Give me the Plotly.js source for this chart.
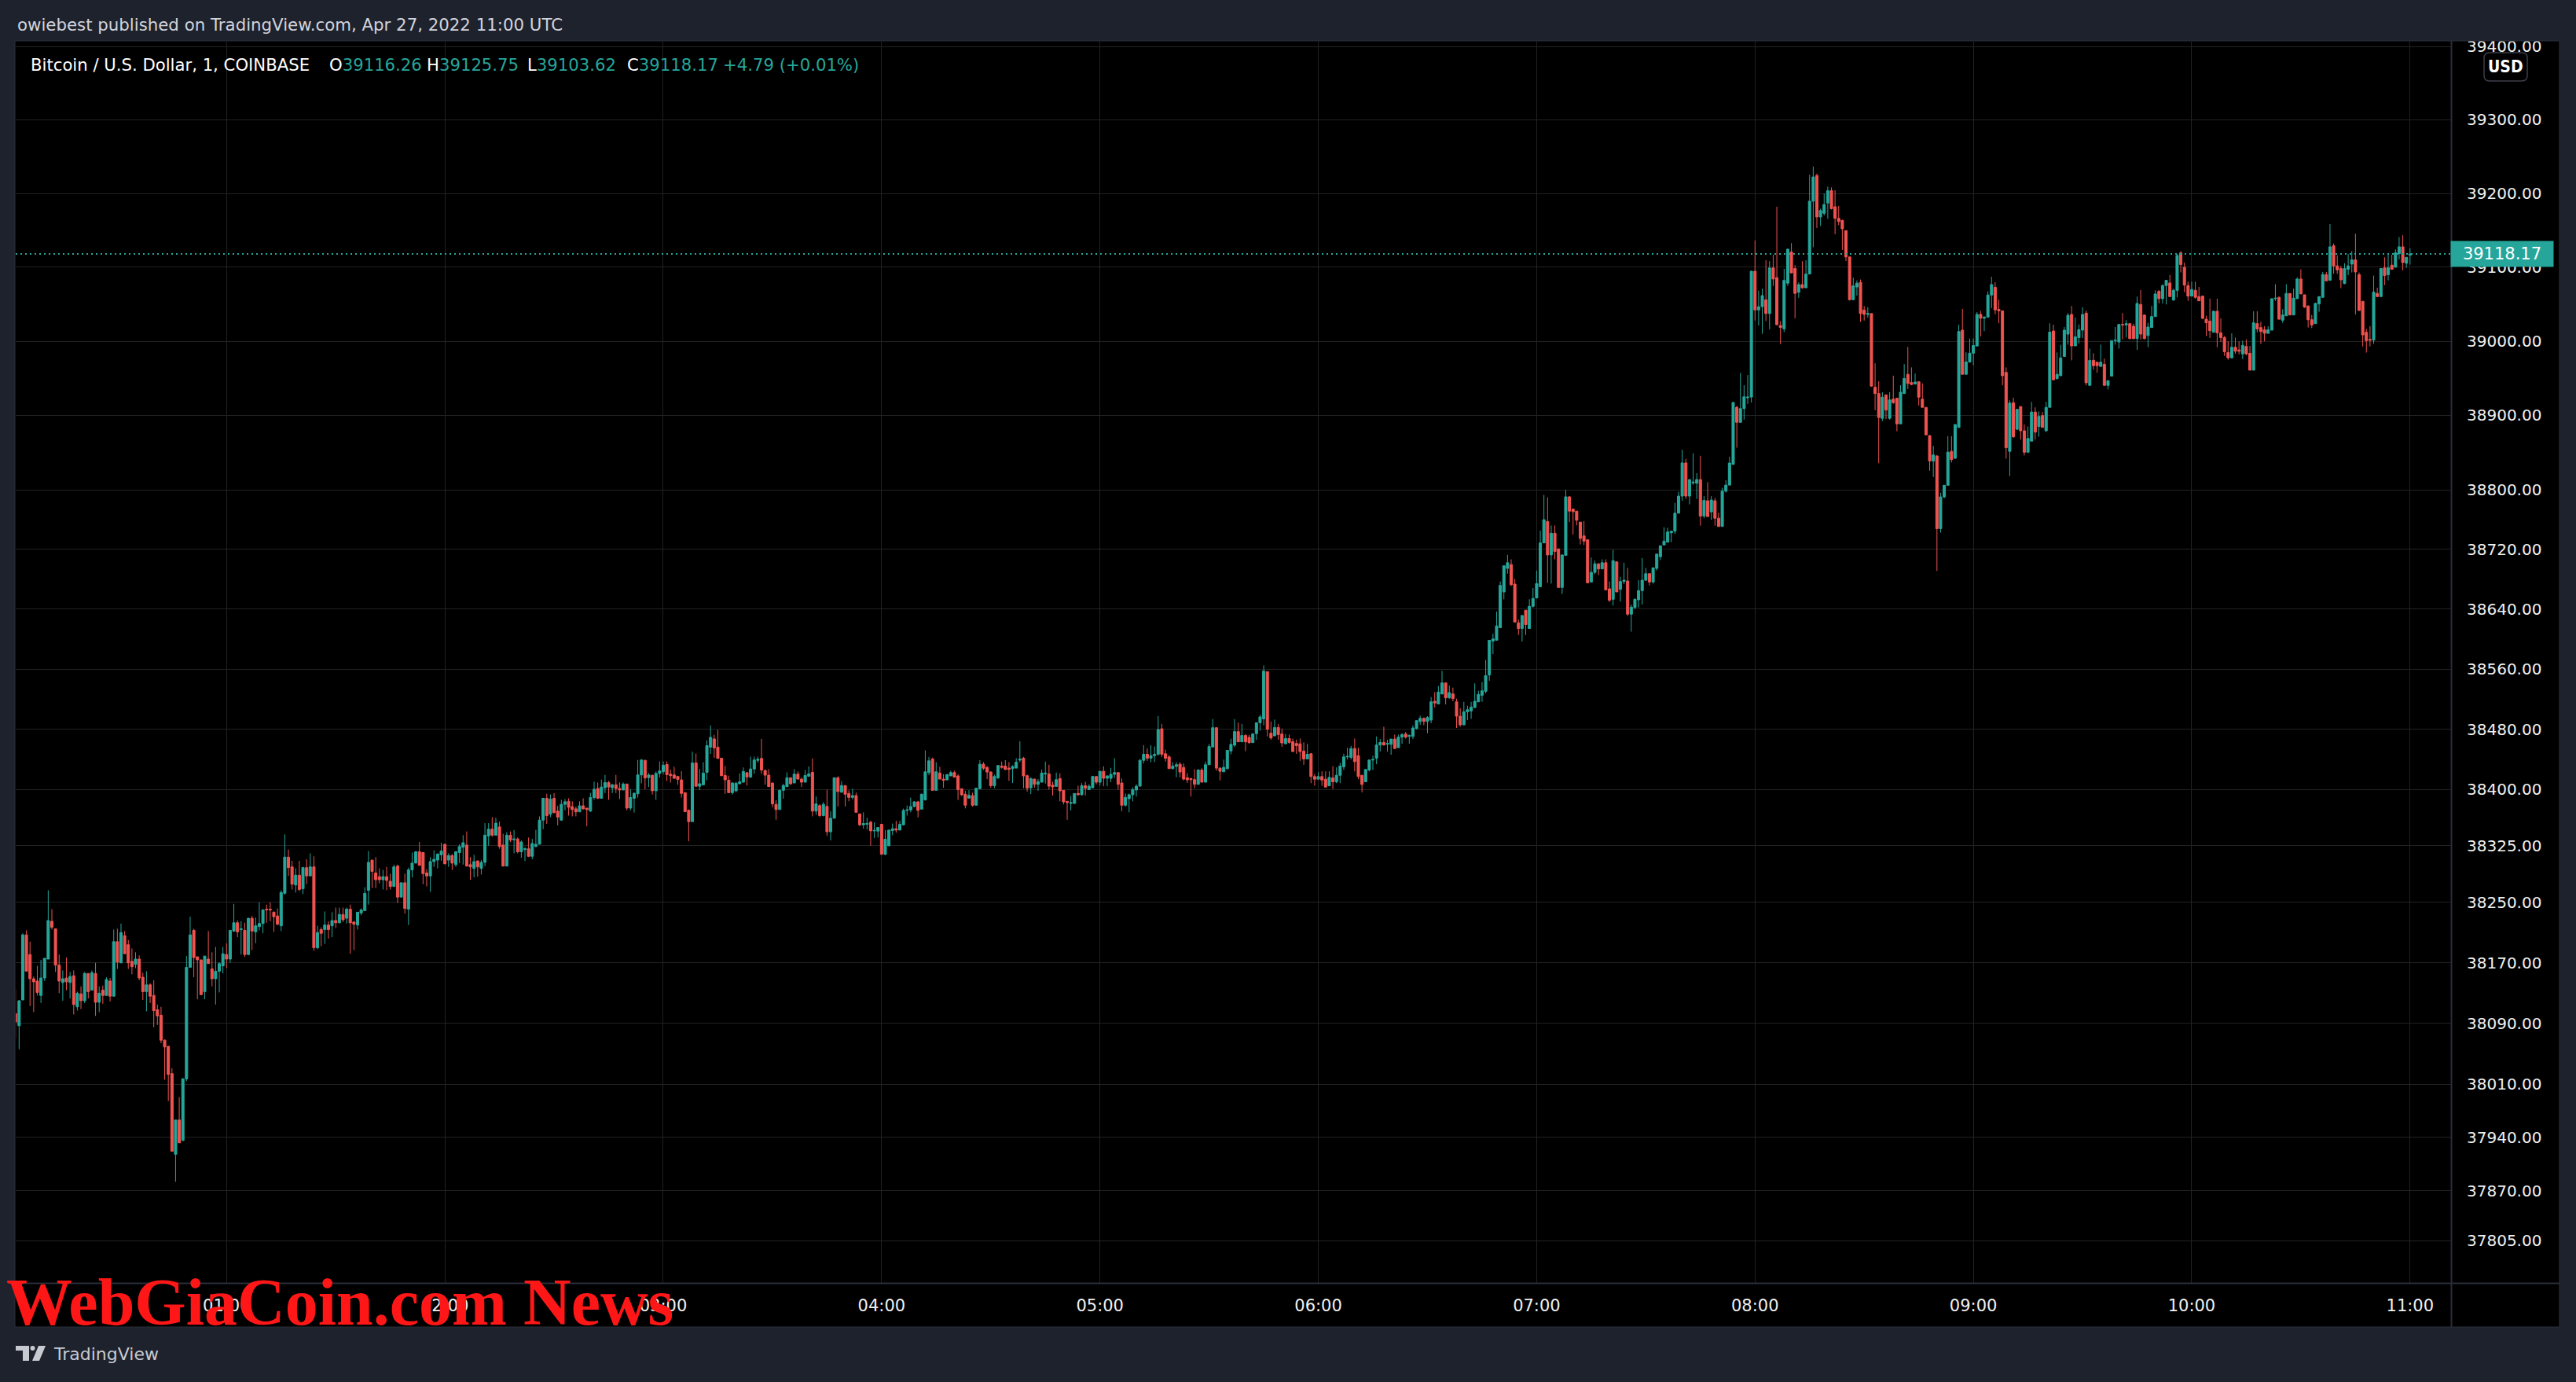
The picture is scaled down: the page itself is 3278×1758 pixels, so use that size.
<!DOCTYPE html>
<html>
<head>
<meta charset="utf-8">
<script src="https://cdn.plot.ly/plotly-3.0.1.min.js"></script>
<style>
html,body{margin:0;padding:0;background:#1e222d;overflow:hidden;}
#chart{width:3278px;height:1758px;}
</style>
</head>
<body>
<div id="chart"></div>
<script>
// ---------------- DATA (1-minute candles, Apr 27 2022, 00:02 → 11:00 UTC) ----------------
const firstCandle = [2022, 3, 27, 0, 2]; // year, month(0-based), day, hour, minute (UTC)

const opens = [
38103,38087,38121,38207,38181,38149,38146,38127,38150,38175,
38225,38215,38167,38144,38150,38144,38153,38112,38129,38120,
38156,38134,38156,38118,38134,38127,38146,38126,38198,38170,
38206,38194,38172,38168,38175,38151,38132,38141,38127,38108,
38101,38068,38060,38024,37918,37963,37936,38017,38164,38213,
38178,38174,38132,38175,38162,38149,38159,38166,38181,38175,
38212,38223,38214,38213,38181,38229,38211,38218,38222,38241,
38241,38237,38232,38219,38262,38310,38297,38273,38286,38268,
38296,38285,38297,38190,38214,38214,38220,38219,38226,38223,
38234,38229,38241,38224,38220,38236,38239,38266,38306,38289,
38284,38280,38284,38278,38271,38298,38257,38276,38241,38293,
38302,38317,38316,38289,38285,38304,38306,
38313,38327,38306,38312,38300,38316,38323,38326,38300,38295,
38305,38295,38303,38338,38347,38339,38350,38326,38298,38339,
38333,38334,38317,38320,38321,38311,38324,38327,38359,38388,
38367,38388,38371,38359,38380,38384,38377,38374,38370,38378,
38375,38371,38389,38401,38388,38402,38409,38402,38406,38401,
38399,38407,38375,38388,38394,38419,38438.5,38415.5,38418.5,38398,
38421,38423.5,38433,38420,38419,38417,38412.5,38395.5,38372,38357,
38435,38404,38406,38422.5,38456,38467,38456,38441.3,38418.4,38412,
38395.5,38398,38407.3,38409.4,38422,38416.3,38427,38438.5,38441,38425,
38418.7,38408.4,38380,38373,38398.6,38403.5,38415.3,38408.4,38420.1,38413.5,
38409.4,38417.3,38422.5,38371,38378.2,38365,38377.2,38343.5,38361.5,38415.3,
38396,38405,
38394.4,38389.2,38391.6,38367.3,38352.8,38353.5,38356.3,38344.8,38344.5,38353.5,
38313.6,38325,38345.2,38347.6,38345.8,38352.8,38371.9,38372.6,38377,38383.3,
38373.6,38385.8,38422.2,38440.2,38398.6,38421.5,38413.5,38412.5,38417.7,38422.2,
38417.7,38400.7,38393.4,38388.2,38391.6,38378.8,38400.7,38433.3,38429,38422.9,
38404.8,38415.3,38430.9,38430.9,38428.1,38427.4,38428.1,38438.8,38441.3,38418,
38402,38413.5,38406.6,38409.4,38420.4,38420.4,38405.5,38403.8,38414.2,38398.6,
38384,38381.2,38381.2,38394.4,38392.7,38404.8,38399.6,38402,38417,38409.4,
38423.9,38414.6,38414.6,38419.8,38422.2,38408.3,38378.8,38387.5,38392.7,38399,
38404.1,38438.5,38446.5,38441.3,38444.7,38446.5,38480.5,38447.2,38443,38427.4,
38430.4,38433.3,38429,38415.3,38414.2,38412.8,38406.6,38425.6,38409.4,38432.6,
38456.2,38481.9,38428.1,38423.2,38427.4,38451,38458.6,38476.7,38463.1,38471.5,
38469,38462,
38474,38488.5,38493.7,38556.6,38474.5,38471,38482.2,38473.5,38460.5,38467.5,
38463.3,38461,38460.5,38450.8,38440.3,38447.2,38416.9,38413.4,38416.9,38413.4,
38404.6,38415.1,38409.9,38418.6,38429.8,38443.1,38442.4,38454.2,38444.8,38418.6,
38409.9,38425.6,38438.9,38441.3,38458.8,38462.3,38459.8,38459.8,38466.8,38455.3,
38469.3,38473.5,38470.3,38470.3,38480.8,38490.2,38494.4,38490.2,38492,38517.1,
38513.6,38526.9,38541.6,38521.7,38526.9,38516.4,38497.2,38485.7,38503.1,38504.2,
38508.7,38516.4,38525.1,38530.4,38552.1,38597.4,38598.5,38615.3,38663.1,38694.6,
38699.8,38673.6,38621.9,38614.2,38638.7,38614.2,38643.9,38655,38670.1,38728.8,
38757.4,38712.7,38741.7,38720.8,38669.1,38712,38790.6,38774.2,38771.4,38756.7,
38738.2,38733,38676.4,38689.3,38700.8,38693.9,38702.2,38667.3,38653.3,38703.3,
38666.6,38677.1,38677.8,38633.4,38642.2,38652.6,38664.9,38678.8,38687.6,38676.4,
38694.6,38710.3,38726,
38729.7,38742.3,38744.5,38768.6,38791.6,38836.1,38791.6,38809.3,38808.9,38813.8,
38764.8,38785.3,38770.4,38785.3,38761.9,38750.8,38798.2,38806.3,38834.2,38911,
38890.7,38909.2,38923.8,38924.8,39094.6,39042.3,39046.7,39056.1,39037.4,39099.1,
39086,39021.3,39016.8,39078.5,39120.7,39098.3,39066.2,39076.6,39072.2,39090.8,
39189.5,39224.3,39168.2,39173.1,39187,39203.7,39182,39166.3,39163.4,39149.5,
39114,39056.1,39073.3,39079.6,39042.2,39036.3,39037.4,38938,38929.5,38896.1,
38927.6,38896.1,38922,38923.2,38888.7,38929.5,38955.4,38944.3,38942.4,38945.4,
38922,38910.9,38872.8,38838.7,38845.4,38747.9,38790.5,38806.1,38851.7,38842.4,
38883.9,39015,38955.4,38972.1,38983.9,38993.6,39036.3,39031.1,39032.6,39062.4,
39072.9,39043,39041.1,38958,38851.7,38917.2,38881.3,38912,38879.4,38850.5,
38865.4,38904.6,38885,38899.8,38879.4,38910.9,39013.8,38949.8,38953.5,
38979.5,39009.6,39036.2,38993.7,39005,39015,39038,38940.5,38974.2,38971.7,
38966,38968.9,38940.5,38953,39000.8,38999,39022.7,39022,39023.8,39020.3,
39003.6,39049.7,39035.5,39007.8,39018.5,39033.4,39067.4,39057.5,39075.2,39078.8,
39055.7,39068.8,39119.5,39100,39075.2,39061,39068.8,39060.3,39061,39029.8,
39027.3,39012.1,39040.5,39011.4,39005,38984.8,38977.7,38991.9,38988.3,38983,
38993,38983.7,38961,39023.8,39018.5,39015.6,39010.7,39015,39057.5,39059.3,
39028.4,39034.4,39064.6,39035.5,39057.5,39084.1,39062.8,39047.6,39029.1,39023.8,
39050.4,39059.3,39090.1,39082.3,39129.1,39101.8,39098.3,39078,39097.2,39104.3,
39110,39090.1,39054,39012.1,39002.5,39001.5,39064.6,39060.3,39099.3,39090,
39102.9,39100,39118.5,39127.7,39105.4,39116.26
];

const highs = [
38135,38121,38209,38213,38198,38152,38166,38174,38176,38266,
38241,38215,38181,38160,38177,38158,38160,38132,38139,38158,
38156,38160,38170,38139,38140,38151,38150,38214,38215,38222,
38212,38200,38189,38184,38180,38157,38159,38143,38147,38115,
38112,38069,38060,38031,37963,37993,38018,38179,38231,38215,
38178,38174,38179,38212,38184,38191,38171,38191,38196,38213,
38248,38226,38225,38223,38229,38232,38230,38250,38241,38247,
38250,38238,38242,38266,38340,38320,38305,38295,38305,38297,
38307,38315,38311,38219,38217,38238,38225,38237,38243,38243,
38243,38243,38247,38225,38237,38242,38270,38318,38306,38310,
38295,38293,38297,38288,38300,38300,38276,38288,38296,38316,
38318,38330,38316,38294,38310,38319,38315,
38329,38327,38315,38314,38318,38327,38339,38344,38310,38313,
38305,38306,38355,38355,38363,38362,38357,38341,38343,38344,
38346,38336,38332,38323,38336,38334,38346,38364,38388,38394,
38393,38395,38378,38386,38387,38388,38384,38377,38384,38388,
38375,38395,38410,38409,38413,38419,38411,38407,38419,38409,
38409,38407,38400,38396,38439,38440,38439,38421.5,38419.5,38423.5,
38437,38437,38437,38426,38430,38418,38424,38395.5,38373.3,38450,
38447.5,38427,38436,38465,38485,38472.5,38479,38442,38431,38418,
38409,38410,38421,38429,38423,38443.4,38443.4,38443.4,38467,38426.3,
38426.7,38408.4,38385.5,38399.6,38407.3,38422.5,38415.3,38426.7,38423.6,38415.6,
38425.6,38430.5,38441,38390.3,38380.2,38383,38399.6,38370.6,38415.3,38417.3,
38411,38405,
38398.6,38400.7,38395.5,38367.3,38369.4,38362,38358,38356,38349.3,38353.5,
38345.8,38346,38354.5,38358,38358,38374.3,38378.5,38388.9,38384,38384.7,
38394.4,38451.7,38443,38442,38436,38429.8,38420,38420.4,38424.6,38424.6,
38420,38400.7,38397.9,38398.6,38395.5,38401.4,38438.8,38436,38430.9,38423.9,
38419.4,38431.6,38436.8,38438.8,38436,38432,38441.3,38463.8,38443,38419.4,
38416,38414.2,38413.5,38426.3,38436.8,38432.6,38410,38422.2,38421.2,38398.6,
38384,38391,38394.4,38404.8,38408.3,38410,38406.6,38418,38417,38423.9,
38430.5,38418.7,38428.4,38441.3,38422.2,38414.2,38394.4,38394.4,38402.4,38406.6,
38440.2,38458.6,38454.5,38458.6,38456.9,38497.5,38487.1,38452.7,38445.4,38436,
38436,38436,38434.3,38421.5,38415.3,38426.7,38426.7,38428.1,38436.8,38460.3,
38493.3,38481.9,38429.1,38439.5,38451.7,38467.3,38493.3,38488.8,38487.1,38473.5,
38472.5,38474.9,
38489,38499,38565,38556.6,38490.2,38492.7,38486.7,38480.8,38473.5,38472.8,
38467.5,38466,38467.5,38462.3,38460.5,38448.3,38420.4,38422.8,38423.8,38423.8,
38423.8,38430.8,38429.1,38435.4,38447.3,38455.3,38457.7,38467.5,38455.3,38418.6,
38426.3,38438.9,38444.8,38470.3,38466.8,38483.2,38465.8,38466.8,38472.8,38472.8,
38474.5,38476.3,38472.8,38485,38492,38497.9,38495.5,38497.2,38522.7,38529.3,
38537.4,38557.6,38541.6,38538.1,38535.3,38520.6,38507.7,38516.4,38511.2,38516.4,
38540.9,38531.1,38542.6,38572.3,38598.5,38607.2,38636.9,38677.1,38698.8,38712.7,
38706.8,38680.6,38626.4,38631.7,38638.7,38653.3,38668.4,38691.8,38745.2,38793.1,
38789.9,38752.2,38752.2,38720.8,38712.7,38800,38791.7,38774.2,38771.4,38756.7,
38758.1,38733,38709.2,38705,38701.5,38706.8,38706.8,38677.1,38719.7,38704.3,
38683.4,38702.2,38695.3,38646.3,38654.4,38678.8,38708.5,38695.3,38687.6,38696.3,
38713.8,38725,38749.8,
38749,38744.5,38782.4,38797.2,38853.9,38841.6,38813.8,38849.2,38822.3,38845.7,
38791.6,38810.4,38791.6,38789,38769.3,38802.6,38813,38844.5,38917.5,38913,
38957.3,38940.7,38954.4,39095.3,39136.4,39068.4,39071,39109.5,39108.4,39117,
39182,39027.3,39097.9,39125.2,39132.7,39102.8,39079.6,39108.4,39109.5,39225.4,
39236.6,39226.9,39179.4,39200,39209.3,39208.2,39204.5,39183.2,39164.5,39149.5,
39114,39086,39082.2,39083.4,39047.5,39046,39037.4,38970.2,38946.1,38931.3,
38928.3,38931.3,38953.5,38923.9,38940.6,38969.1,38992.4,38964.7,38956.5,38946.1,
38943.2,38910.9,38873.9,38859,38846.8,38796.1,38806.1,38872.1,38872.1,38888.8,
39022.4,39043.7,38985,39003.7,39003.7,39039.3,39041.1,39033.6,39067.3,39087.1,
39079.6,39056.1,39041.1,38964.7,38920.3,38924,38908.3,38912,38888,38885,
38918.3,38910.9,38905.4,38904.6,38918.3,39024.3,39022.4,38985,38995,
39019.2,39038,39047.6,39032,39022.7,39045.8,39041.5,38990.1,38983.7,38971.7,
38995.4,38976.6,38946.9,39000.8,39019.2,39022.7,39038,39028.4,39023.8,39023.8,
39060.3,39069.2,39035.5,39024.9,39047.6,39068.8,39069.2,39077,39082.3,39089.4,
39071,39117.8,39122,39106.4,39080.5,39080.5,39080.5,39073.4,39061.7,39034.4,
39057.5,39041.5,39057.5,39031,39007.1,38999.9,39010.7,39005,38999.9,39000.8,
39002.5,38993.7,39040.5,39040.5,39026.3,39020.3,39020.3,39057.5,39077,39060.3,
39043.3,39077,39064.6,39071,39086.6,39097.2,39062.8,39048.6,39035.5,39052.2,
39060.3,39093.7,39093.7,39158.5,39132,39116,39101.8,39105.4,39117.8,39122,
39145.4,39093,39054,39016.7,39020.3,39088.7,39072.4,39098.3,39113.5,39118.5,
39117,39124.2,39140.8,39143.3,39113.5,39125.75
];

const lows = [
38071,38056,38121,38159,38113,38105,38127,38117,38146,38175,
38214,38158,38130,38120,38134,38123,38102,38107,38109,38117,
38123,38134,38100,38105,38116,38127,38119,38126,38162,38170,
38182,38162,38155,38163,38147,38121,38106,38117,38085,38088,
38064,38016,37988,37922,37882,37933,37936,38014,38164,38151,
38122,38128,38122,38169,38139,38115,38131,38156,38163,38170,
38211,38204,38181,38178,38180,38187,38196,38213,38209,38223,
38225,38211,38220,38212,38260,38285,38267,38263,38265,38261,
38274,38285,38186,38188,38192,38195,38202,38204,38216,38222,
38224,38222,38182,38187,38214,38233,38239,38247,38269,38269,
38275,38267,38266,38267,38271,38249,38257,38235,38220,38283,
38302,38299,38274,38271,38264,38297,38295,
38305,38301,38297,38293,38297,38302,38300,38298,38280,38283,
38284,38287,38298,38325,38337,38339,38321,38298,38298,38330,
38315,38315,38309,38305,38310,38307,38323,38327,38347,38354,
38363,38368,38352,38358,38372,38365,38364,38364,38370,38373,
38351,38370,38386,38387,38388,38395,38386,38395,38395,38387,
38399,38372,38372,38369,38389,38408,38400,38403,38393,38386,
38415.5,38420,38411,38409,38414,38406,38389,38369.6,38331,38357,
38404,38399,38405,38412,38447,38441.6,38441,38418,38394,38395,
38393,38396,38407,38409,38405,38415,38420.5,38435.4,38420.5,38406.3,
38403.5,38376,38359.5,38373,38387.5,38403,38405.6,38408.4,38413.5,38403,
38409.4,38416.6,38364,38366,38363,38364,38338,38332,38361.5,38377.2,
38396,38377,
38384,38386.5,38369.4,38351,38347.6,38346.5,38325,38335.4,38336,38313.6,
38312.5,38324.3,38338.9,38342.4,38345.8,38352,38365,38369.4,38376,38362.5,
38373.6,38385,38418.7,38397.9,38397.9,38413.5,38402,38411.8,38417.7,38416,
38385.8,38391,38374.6,38387.5,38377,38378.8,38400.7,38425.6,38413.5,38402,
38401.4,38413.5,38427.4,38425.6,38411.1,38408.3,38428.1,38436,38401.4,38396.9,
38393.7,38402,38397.9,38409.4,38407.6,38399.6,38391.6,38403.8,38384,38379.8,
38359.4,38372,38380.6,38391.6,38391.6,38391.6,38398.9,38401.4,38406.6,38404.8,
38404,38404,38409.4,38415.3,38399.6,38370.8,38377,38369.4,38384,38390.3,
38404.1,38434.3,38437.8,38436,38436,38444.7,38443,38436.8,38427.4,38426.3,
38416,38416,38411.8,38408.3,38390.3,38401.4,38405.9,38409.4,38409.4,38432.6,
38456.2,38424.6,38411.8,38423.2,38426.3,38446.5,38456.2,38463.1,38463.1,38450.6,
38460.3,38462,
38465.8,38478,38485,38470.3,38465.8,38471,38465.8,38456.3,38460.5,38460.5,
38450.1,38447,38437.8,38432.6,38440.3,38408.1,38404.6,38413.4,38404.6,38402.9,
38404.6,38400.4,38408.1,38408.1,38425.6,38439.6,38439.6,38423.8,38413.4,38395.9,
38409.9,38423.8,38425.6,38433.3,38450.1,38458.8,38450.1,38445.9,38453.5,38455.3,
38460.5,38467.5,38460.5,38466.8,38479.7,38485.7,38485,38474.5,38487.8,38508.7,
38512.9,38526.2,38512.9,38520.6,38517.1,38481.5,38483.2,38485,38492,38493.7,
38508.7,38516.4,38516.4,38527.6,38544.4,38580,38598.5,38615.3,38653.3,38687.6,
38670.8,38622.9,38605.5,38596.8,38605.5,38614.2,38642.2,38655,38670.1,38728.8,
38675.3,38674.3,38706.8,38669.1,38660.3,38712,38756.7,38740,38752.2,38726.7,
38726,38675.3,38676.4,38686.9,38685.8,38693.9,38665.9,38649.8,38645,38663.1,
38650.2,38673.6,38631,38610,38640.5,38642.2,38646.3,38677.8,38671.9,38674.3,
38691.8,38705.7,38726,
38729.7,38729.7,38740.6,38768.6,38785.3,38787.9,38780.5,38806.7,38787.9,38751.9,
38762,38764.1,38759.7,38751.9,38750.8,38750.8,38796.3,38806.3,38833.5,38856.6,
38890.7,38894.4,38915.5,38917.5,39028,39021.3,39010,39027.3,39016,39074.8,
39021.3,38996,39012.3,39074.8,39092.3,39031,39058.7,39071,39072.2,39090.8,
39127.1,39153.3,39155.9,39170.1,39165.6,39178.3,39144.7,39157,39123.4,39108.4,
39055,39056.1,39061.7,39026.2,39028,39031.8,38938.7,38907.2,38835.7,38892.4,
38895,38894.3,38915.7,38878.7,38888.7,38929.5,38935.8,38940.6,38941.7,38913.5,
38910.9,38873.9,38825.7,38817.2,38691.2,38742.6,38788.7,38806.1,38836.8,38841.8,
38883.9,38955.4,38955.4,38971,38967.6,38993.6,39006.4,39013.8,39032.6,39044.9,
39036.3,39024.3,38940.6,38841.8,38818.5,38869.8,38881.3,38867.6,38846.1,38850.5,
38865.4,38867.6,38871.3,38883.9,38877.6,38910.9,38948,38948,38953.5,
38979.5,38995.4,38974.2,38993.7,38996.8,39004.3,38940.5,38940.5,38961.7,38957.5,
38966,38940.5,38935,38953,38995.4,38990.1,39002.5,39005,39002.5,39002.5,
38988.3,39002.5,39002.5,38991.9,39018.5,39032.7,39051.1,39051.1,39049.7,39060.3,
39054.6,39059.3,39093,39066.4,39054.6,39061,39057.5,39054.6,39029.8,39007.1,
39004.3,39012.1,38991.9,38999,38980.2,38975.2,38976.6,38983.1,38982.3,38975.9,
38981.2,38961,38961,39012.1,38996.5,38999.9,39010.7,39015,39054.6,39029.1,
39024.9,39034.4,39035.5,39035.5,39057.5,39063.9,39045.1,39018.5,39017.8,39023.8,
39039.8,39059.3,39081.6,39082.3,39091.2,39091.2,39071.7,39077,39089.4,39093,
39036.2,39041.5,38993,38984.8,38993,38996.5,39060.3,39060.3,39075.9,39082.3,
39097.2,39100,39110.7,39095.8,39099.3,39103.62
];

const closes = [
38092,38120,38207,38159,38149,38145,38131,38150,38176,38226,
38217,38167,38146,38149,38145,38152,38115,38130,38120,38156,
38132,38157,38118,38130,38127,38148,38126,38198,38171,38210,
38182,38170,38165,38175,38150,38132,38141,38126,38107,38100,
38068,38059,38023,37922,37963,37933,38017,38164,38207,38177,
38174,38128,38179,38169,38149,38159,38169,38182,38175,38213,
38223,38211,38215,38181,38229,38212,38219,38222,38240,38240,
38240,38231,38221,38263,38310,38296,38274,38286,38267,38296,
38285,38297,38190,38210,38209,38220,38214,38226,38223,38234,
38227,38241,38223,38221,38237,38240,38262,38303,38291,38280,
38280,38284,38279,38271,38297,38257,38276,38242,38293,38302,
38317,38299,38288,38285,38304,38307,38314,
38318,38301,38312,38302,38317,38324,38329,38298,38297,38304,
38297,38303,38339,38347,38339,38355,38324,38298,38339,38332.5,
38334,38317,38330,38321,38311,38328,38327,38359,38388,38365,
38387,38369,38363,38380,38383.4,38376,38373,38370,38378,38374,
38373,38389,38400,38388,38403,38409,38403,38406,38401,38399,
38407,38375,38389,38394.5,38419,38439,38415,38419,38398,38421,
38424.3,38432,38419.4,38418,38414.6,38413,38394.5,38370.3,38357,38435,
38404,38407.3,38421.5,38458,38469,38455,38441,38418,38412.5,38395.5,
38408.4,38408,38410,38423.6,38416.3,38427,38439,38439.9,38425.6,38418.7,
38403.5,38380.6,38373,38398.6,38405,38415.3,38407.3,38420.1,38413.5,38409.4,
38418.4,38420.5,38371,38380.6,38365,38380,38343.5,38361.5,38415.3,38396.9,
38405,38393.4,
38389.2,38391.6,38369.4,38352.8,38354.5,38354.5,38344.8,38345.4,38349.3,38313.6,
38333.7,38345.8,38347.6,38345.8,38353.5,38371.9,38372.6,38377.1,38383.3,38371.9,
38393.4,38423.2,38437.8,38398.6,38423.2,38413.5,38411.8,38419.4,38422.2,38416,
38399.6,38392.7,38378.8,38392,38378.8,38401.4,38433.3,38428,38422.9,38404.8,
38417,38431.6,38429.1,38426.3,38426.3,38430.2,38436,38440.2,38417.7,38401.4,
38414.2,38406.6,38410,38421.5,38421.5,38404.1,38403.1,38412.8,38397.9,38383.3,
38382.3,38382.3,38394.4,38392.7,38404.8,38401.4,38404,38417,38409.4,38423.9,
38414.6,38417.7,38419.8,38422.2,38406.6,38378.8,38389.2,38392.7,38399.6,38404.1,
38438.5,38446.5,38441.3,38444.7,38446.5,38479.5,38446.5,38441.3,38427.4,38430.9,
38432.6,38422.9,38413.5,38412.5,38412.8,38406.6,38425.6,38409.4,38432.6,38456.9,
38481.9,38428.1,38423.9,38429.1,38451.7,38459.7,38476.7,38463.1,38471.5,38463.1,
38462,38473.5,
38488.5,38496.2,38557.3,38479.7,38468.2,38482.2,38472.8,38461.6,38467.5,38462.3,
38450.1,38458,38450.1,38440.3,38446.5,38416.9,38413.4,38416.9,38412.3,38402.9,
38415.8,38409.9,38418.6,38430.8,38443.1,38443.7,38454.2,38436.8,38416.9,38406.4,
38426.3,38438.9,38439.6,38458.8,38462.3,38458.8,38461.2,38466.8,38454.2,38469.3,
38472.8,38469.3,38471.7,38481.5,38491.3,38494.4,38490.2,38495.5,38516.4,38514.7,
38529.3,38541.6,38521.7,38528.6,38520.6,38497.2,38485.7,38503.1,38505.9,38509.4,
38517.1,38526.2,38531.1,38551.3,38598.5,38600.2,38617.7,38671.9,38698.1,38702.2,
38672.9,38622.9,38614.2,38631.7,38619.5,38643.9,38654.4,38674.3,38728.8,38759.9,
38712.7,38741.7,38717.3,38669.1,38712.7,38790.6,38771.4,38770.7,38759.2,38734.7,
38731.2,38675.3,38689.3,38700.8,38693.9,38702.2,38665.9,38652,38705,38663.1,
38677.1,38678.8,38633.4,38642.9,38653.3,38664.9,38678.8,38687.6,38676.4,38695.3,
38713.8,38725,38731.2,
38743.4,38744.5,38768.6,38791.6,38836.1,38791.6,38813.8,38810.4,38813.8,38764.8,
38785.9,38764.1,38786.3,38761.9,38750.8,38798.2,38806.3,38836,38917.5,38890.7,
38909.2,38925.1,38924.8,39094.6,39042.3,39046.7,39061.7,39037.4,39099.1,39084.1,
39022.4,39018.7,39082.2,39124.5,39092.3,39064.7,39076.6,39072.2,39090.8,39189.5,
39222.4,39168.2,39176.8,39185,39203.7,39179.4,39166.3,39161.9,39152.1,39114,
39056.1,39074.8,39078.5,39037.4,39036.3,39037.4,38939.5,38929.5,38897.2,38924.6,
38907.2,38920.9,38917.2,38888.7,38931.3,38949.8,38943.2,38941.7,38945,38924.6,
38910.9,38873.9,38838.7,38846.8,38747.9,38790.5,38806.1,38850.6,38840.6,38887.6,
39013.1,38955.4,38972.1,38983.9,38994.3,39036.3,39031.1,39032.6,39062.4,39076.6,
39042.3,39041.1,38953.5,38856.5,38916.6,38871.3,38908.3,38879.4,38850.5,38869,
38904.6,38877.6,38898.7,38883.9,38910.9,39012.3,38948,38955.4,38977.6,
39015,39035.1,38993.7,39006,39015.6,39036.2,38944,38974.2,38967.1,38967.1,
38971.7,38940.5,38946.9,39000.8,39001.5,39022.7,39022,39023.8,39003.6,39003.6,
39051.1,39009.6,39003.6,39019.2,39033.4,39063.9,39057.5,39075.2,39082.3,39060.3,
39068.8,39116,39103.6,39075.9,39061,39069.9,39059.3,39054.6,39030.9,39024.9,
39014.2,39040.5,39011.4,39005,38985.9,38977.7,38991.9,38986.6,38986.6,38994.4,
38983,38961,39024.9,39016.7,39013.2,39010.7,39015.6,39057.5,39058.2,39029.8,
39035.5,39064.6,39035.5,39058.2,39084.1,39063.9,39046.1,39029.1,39022,39051.1,
39060.3,39090.1,39081.6,39127.7,39101.8,39096.5,39083,39098.3,39101.8,39110,
39093.7,39041.5,39008.5,39000.8,39001.5,39066.4,39060.3,39098.3,39088.7,39099.3,
39097.2,39119.5,39127.7,39106.4,39113.5,39118.17
];

const yTickVals = [37805, 37870, 37940, 38010, 38090, 38170, 38250, 38325, 38400, 38480,
                   38560, 38640, 38720, 38800, 38900, 39000, 39100, 39200, 39300, 39400];
const yTickText = yTickVals.map(v => v.toFixed(2));

const lastPrice = 39118.17;
const legendSymbol = 'Bitcoin / U.S. Dollar, 1, COINBASE';
const legendLetters = ['O', 'H', 'L', 'C'];
const legendValues = ['39116.26', '39125.75', '39103.62', '39118.17'];
const legendChange = '+4.79 (+0.01%)';
const headerText = 'owiebest published on TradingView.com, Apr 27, 2022 11:00 UTC';
const watermarkText = 'WebGiaCoin.com News';
const footerText = 'TradingView';
const currencyText = 'USD';

// ---------------- GEOMETRY / STYLE ----------------
const W = 3278, H = 1758;
const PL = 20, PR = 3119, PT = 53, PB = 1632;
const px = X => (X - PL) / (PR - PL);
const py = Y => (PB - Y) / (PB - PT);
const pt = (X, Y) => px(X) + ',' + py(Y);

const UP = '#26a69a', DOWN = '#ef5350';
const FRAME = '#1e222d';
const GRID = '#222222';
const SEP = '#2a2e39';
const FONT = 'DejaVu Sans, Roboto, sans-serif';

const pad = n => String(n).padStart(2, '0');
const t0 = Date.UTC(firstCandle[0], firstCandle[1], firstCandle[2], firstCandle[3], firstCandle[4]);
const times = closes.map((_, i) => {
  const d = new Date(t0 + i * 60000);
  return d.getUTCFullYear() + '-' + pad(d.getUTCMonth() + 1) + '-' + pad(d.getUTCDate()) + ' ' +
         pad(d.getUTCHours()) + ':' + pad(d.getUTCMinutes());
});
const xRange = ['2022-04-27 00:02:04', '2022-04-27 11:11:16'];

const candles = {
  type: 'candlestick',
  x: times, open: opens, high: highs, low: lows, close: closes,
  increasing: {line: {color: UP, width: 1}, fillcolor: UP},
  decreasing: {line: {color: DOWN, width: 1}, fillcolor: DOWN},
  whiskerwidth: 0,
  hoverinfo: 'none',
  showlegend: false
};

const lastLine = {
  type: 'scatter', mode: 'lines',
  x: xRange, y: [lastPrice, lastPrice],
  line: {color: UP, width: 2, dash: '2px,4px'},
  hoverinfo: 'skip', showlegend: false
};

// rounded rectangle path (pixel coords → paper coords)
const roundRect = (X0, Y0, X1, Y1, r) =>
  'M' + pt(X0 + r, Y0) + 'L' + pt(X1 - r, Y0) + 'Q' + pt(X1, Y0) + ' ' + pt(X1, Y0 + r) +
  'L' + pt(X1, Y1 - r) + 'Q' + pt(X1, Y1) + ' ' + pt(X1 - r, Y1) +
  'L' + pt(X0 + r, Y1) + 'Q' + pt(X0, Y1) + ' ' + pt(X0, Y1 - r) +
  'L' + pt(X0, Y0 + r) + 'Q' + pt(X0, Y0) + ' ' + pt(X0 + r, Y0) + 'Z';

const shapes = [
  // outer frame
  {type: 'rect', xref: 'paper', yref: 'paper', x0: px(0), x1: px(W), y0: py(52), y1: py(0), fillcolor: FRAME, line: {width: 0}, layer: 'above'},
  {type: 'rect', xref: 'paper', yref: 'paper', x0: px(0), x1: px(19), y0: py(H), y1: py(0), fillcolor: FRAME, line: {width: 0}, layer: 'above'},
  {type: 'rect', xref: 'paper', yref: 'paper', x0: px(3257), x1: px(W), y0: py(H), y1: py(0), fillcolor: FRAME, line: {width: 0}, layer: 'above'},
  {type: 'rect', xref: 'paper', yref: 'paper', x0: px(0), x1: px(W), y0: py(H), y1: py(1688), fillcolor: FRAME, line: {width: 0}, layer: 'above'},
  // panel separators
  {type: 'line', xref: 'paper', yref: 'paper', x0: px(3119.5), x1: px(3119.5), y0: py(52), y1: py(1688), line: {color: SEP, width: 2}, layer: 'above'},
  {type: 'line', xref: 'paper', yref: 'paper', x0: px(19), x1: px(3257), y0: py(1632.5), y1: py(1632.5), line: {color: SEP, width: 2}, layer: 'above'},
  {type: 'rect', xref: 'paper', yref: 'paper', x0: px(19), x1: px(3257), y0: py(1688), y1: py(52), line: {color: SEP, width: 1}, layer: 'above'},
  // USD badge
  {type: 'path', xref: 'paper', yref: 'paper', path: roundRect(3161, 67, 3216, 103, 7), fillcolor: '#000000', line: {color: '#3c3f4a', width: 1.5}, layer: 'above'},
  // TradingView logo
  {type: 'path', xref: 'paper', yref: 'paper', path: 'M' + pt(20, 1712) + 'L' + pt(37, 1712) + 'L' + pt(37, 1731) + 'L' + pt(29, 1731) + 'L' + pt(29, 1718) + 'L' + pt(20, 1718) + 'Z', fillcolor: '#c8cad2', line: {width: 0}, layer: 'above'},
  {type: 'circle', xref: 'paper', yref: 'paper', x0: px(38.5), x1: px(44.5), y0: py(1718), y1: py(1712), fillcolor: '#c8cad2', line: {width: 0}, layer: 'above'},
  {type: 'path', xref: 'paper', yref: 'paper', path: 'M' + pt(49, 1712) + 'L' + pt(58, 1712) + 'L' + pt(50, 1731) + 'L' + pt(41, 1731) + 'Z', fillcolor: '#c8cad2', line: {width: 0}, layer: 'above'}
];

const ann = (X, Y, text, font, extra) => Object.assign({
  xref: 'paper', yref: 'paper', x: px(X), y: py(Y), text: text,
  showarrow: false, xanchor: 'left', yanchor: 'middle', font: font
}, extra || {});

const legendX = [417, 541, 669, 796];
const annotations = [
  ann(20, 32, headerText, {family: FONT, size: 21.3, color: '#d1d4dc'}),
  ann(37, 83, legendSymbol, {family: FONT, size: 21.2, color: '#ffffff'})
];
legendLetters.forEach((l, i) => {
  annotations.push(ann(legendX[i], 83, l + '<span style="color:' + UP + '">' + legendValues[i] + '</span>',
    {family: FONT, size: 21.2, color: '#ffffff'}));
});
annotations.push(ann(918, 83, legendChange, {family: FONT, size: 21.2, color: UP}));
// USD text
annotations.push(ann(3188.5, 85, currencyText, {family: 'DejaVu Sans Condensed, DejaVu Sans, sans-serif', size: 21, color: '#ffffff', weight: 'bold'},
  {xanchor: 'center'}));
// last price label
annotations.push({
  xref: 'paper', yref: 'y', x: px(3118), y: Math.log10(lastPrice),
  text: lastPrice.toFixed(2), showarrow: false, xanchor: 'left', yanchor: 'middle',
  bgcolor: UP, borderpad: 2, width: 126, height: 28, align: 'center',
  font: {family: FONT, size: 21, color: '#ffffff'}
});
// footer
annotations.push(ann(66, 1722, footerText, {family: FONT, size: 22, color: '#c8cad2'}));
// watermark
annotations.push(ann(6, 1656, watermarkText, {family: 'Liberation Serif, serif', size: 84, color: '#ff1717', weight: 'bold'}));

const layout = {
  width: W, height: H,
  margin: {l: PL, r: W - PR, t: PT, b: H - PB, pad: 0},
  paper_bgcolor: '#000000',
  plot_bgcolor: '#000000',
  showlegend: false,
  boxgap: 0.35,
  boxgroupgap: 0,
  xaxis: {
    type: 'date', range: xRange,
    rangeslider: {visible: false},
    tick0: '2022-04-27 00:00', dtick: 3600000, tickformat: '%H:%M',
    showgrid: true, gridcolor: GRID, gridwidth: 1,
    zeroline: false, showline: false, ticks: '',
    ticklabelstandoff: 14,
    tickfont: {family: FONT, size: 21, color: '#f0f0f0'},
    fixedrange: true
  },
  yaxis: {
    type: 'log', side: 'right',
    range: [4.5769113, 4.5955674],
    tickmode: 'array', tickvals: yTickVals, ticktext: yTickText,
    showgrid: true, gridcolor: GRID, gridwidth: 1,
    zeroline: false, showline: false, ticks: '',
    ticklabelstandoff: 19,
    tickfont: {family: FONT, size: 20, color: '#f0f0f0'},
    fixedrange: true
  },
  shapes: shapes,
  annotations: annotations
};

Plotly.newPlot('chart', [candles, lastLine], layout, {displayModeBar: false, staticPlot: true});
</script>
</body>
</html>
